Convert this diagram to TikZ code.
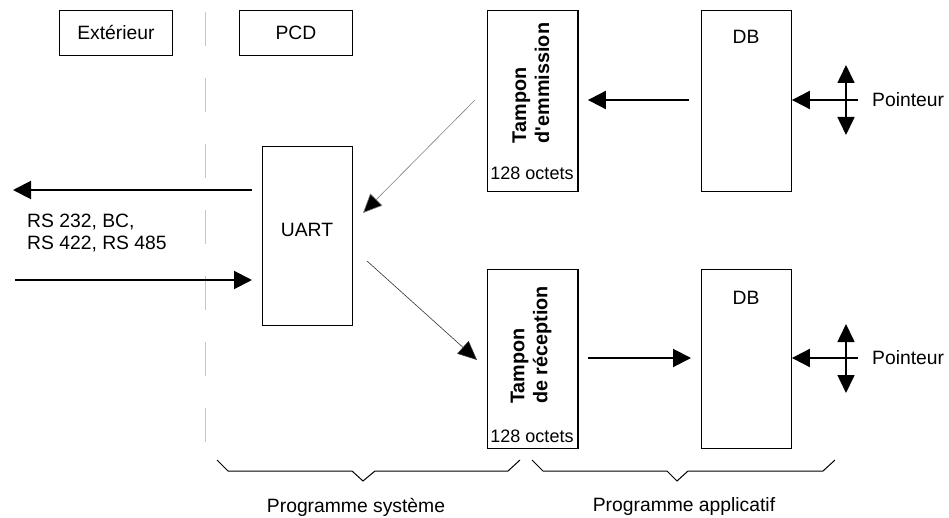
\documentclass[tikz,border=0pt]{standalone}
\usepackage{fontspec}
\setmainfont{Liberation Sans}
\usetikzlibrary{arrows.meta}
\begin{document}
\begin{tikzpicture}[x=1pt,y=-1pt,
  font=\fontsize{19.3}{21.5}\selectfont,
  box/.style={draw,line width=0.9pt,anchor=north west,inner sep=0pt},
  label/.style={inner sep=0pt},
  sizelabel/.style={inner sep=0pt,font=\fontsize{18}{21}\selectfont},
  vlabel/.style={inner sep=0pt,rotate=90,align=left,font=\fontsize{19.8}{23}\selectfont\bfseries},
  bigarrow/.style={line width=2pt,-{Triangle[length=18pt,width=18pt]}},
  ptrarrow/.style={line width=1.6pt,{Triangle[length=18pt,width=17pt]}-{Triangle[length=18pt,width=17pt]}},
  thinarrow/.style={line width=0.6pt,-{Triangle[length=19pt,width=17pt,fill=black]}},
  brace/.style={line width=1pt}]
\useasboundingbox (0,0) rectangle (949,518);

% column headers
\node[box,minimum width=113pt,minimum height=45pt] (ext) at (59,10) {Extérieur};
\node[box,minimum width=113pt,minimum height=45pt] (pcd) at (239,10) {PCD};

% boundary between outside world and PCD
\draw[gray!45,line width=0.9pt,dash pattern=on 34pt off 32pt] (205,12) -- (205,460);

% blocks
\node[box,minimum width=90pt,minimum height=179pt] (uart) at (262,146) {};
\node[label] (uartl) at (307,230) {UART};

\node[box,minimum width=90pt,minimum height=181pt] (te) at (487,10) {};
\node[box,minimum width=90pt,minimum height=179pt] (tr) at (487,269) {};
\draw[line width=1.8pt] (te.north east) -- (te.south east);
\draw[line width=1.8pt] (tr.north east) -- (tr.south east);
\node[vlabel] (tel) at (531,83) {Tampon\\d\textquotesingle emmission};
\node[vlabel] (trl) at (531,345) {Tampon\\de réception};
\node[sizelabel] (teo) at (532,173) {128 octets};
\node[sizelabel] (tro) at (532,436) {128 octets};

\node[box,minimum width=90pt,minimum height=181pt] (db1) at (701,10) {};
\node[box,minimum width=90pt,minimum height=179pt] (db2) at (701,269) {};
\node[label] (db1l) at (746,37) {DB};
\node[label] (db2l) at (746,298) {DB};

% serial line to the outside
\coordinate (outEnd) at (13,190);
\coordinate (inStart) at (15,280);
\draw[bigarrow] (uart.west |- outEnd) ++(-10,0) -- (outEnd);
\draw[bigarrow] (inStart) -- ([xshift=-10pt]uart.west |- inStart);
\node[label,anchor=west,align=left] (rs) at (27,233) {RS 232, BC,\\RS 422, RS 485};

% data flow between buffers and UART
\coordinate (teOut) at (475,100);
\coordinate (uartIn) at (363,213);
\coordinate (uartOut) at (367,261);
\coordinate (trIn) at (477,360);
\draw[thinarrow,gray] (teOut) -- (uartIn);
\draw[thinarrow,black!80] (uartOut) -- (trIn);

% data blocks and buffers
\draw[bigarrow] ([xshift=-12pt]db1.west |- 0,100) -- ([xshift=10pt]te.east |- 0,100);
\draw[bigarrow] ([xshift=10pt]tr.east |- 0,358) -- ([xshift=-10pt]db2.west |- 0,358);

% pointers
\coordinate (p1) at (858,100);
\coordinate (p1u) at (846,65);
\coordinate (p1d) at (846,135);
\draw[bigarrow] (p1) -- (db1.east |- p1);
\draw[ptrarrow] (p1u) -- (p1d);
\node[label,anchor=west] (p1l) at (872,100) {Pointeur};

\coordinate (p2) at (858,358);
\coordinate (p2u) at (846,324);
\coordinate (p2d) at (846,393);
\draw[bigarrow] (p2) -- (db2.east |- p2);
\draw[ptrarrow] (p2u) -- (p2d);
\node[label,anchor=west] (p2l) at (872,358) {Pointeur};

% braces
\draw[brace] (217,460) -- (228,471) -- (352,471) -- (363,481) -- (375,471) -- (508,471) -- (520,460);
\draw[brace] (532,460) -- (543,471) -- (667,471) -- (677,481) -- (688,471) -- (823,471) -- (835,460);
\node[label] (ps) at (356,507) {Programme système};
\node[label] (pa) at (684,507) {Programme applicatif};
\end{tikzpicture}
\end{document}
